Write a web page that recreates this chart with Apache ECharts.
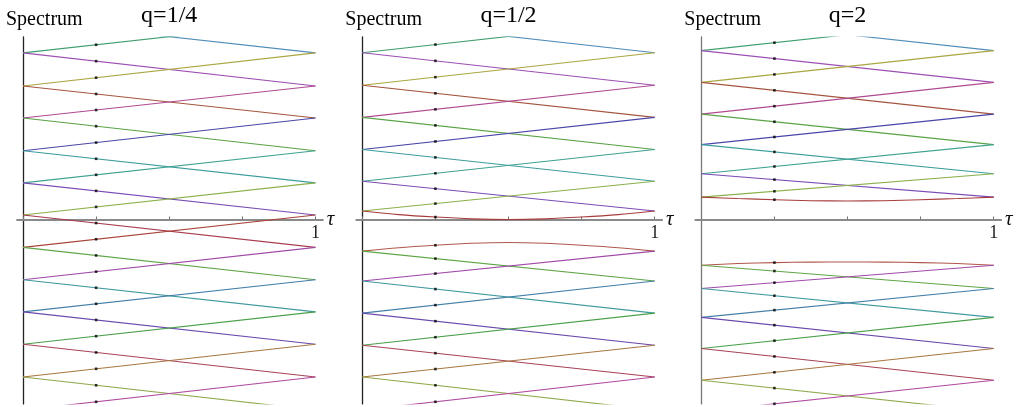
<!DOCTYPE html>
<html>
<head>
<meta charset="utf-8">
<script src="https://cdn.jsdelivr.net/npm/echarts@6/dist/echarts.min.js"></script>
<style>
html,body{margin:0;padding:0;background:#fff}
#chart{width:1022px;height:407px}
</style>
</head>
<body>
<div id="chart"></div>
<script>
// tau axis
var tauTicks = [0, 0.25, 0.5, 0.75, 1];
var tauLabels = [1];
var dotTau = 0.25;
var panelTitles = ['q=1/4', 'q=1/2', 'q=2'];

// levels at tau=0 (same at tau=1), top to bottom
var levelsQ14 = [6.14, 5.14, 4.12, 3.13, 2.12, 1.13, 0.14, -0.86, -1.86, -2.85, -3.85, -4.86, -5.88];
var levelsQ12 = [6.15, 5.145, 4.14, 3.15, 2.16, 1.18, 0.26, -0.975, -1.90, -2.89, -3.88, -4.86, -5.88];
var levelsQ2  = [6.19, 5.21, 4.23, 3.25, 2.31, 1.41, 0.69, -1.41, -2.13, -3.02, -3.98, -4.96, -5.93];

// bent bands next to the gap (q=1/2, q=2)
var curveTau = [0, 0.125, 0.25, 0.375, 0.5, 0.625, 0.75, 0.875, 1];
var upperQ12 = [0.26, 0.15, 0.075, 0.02, 0.0, 0.02, 0.075, 0.15, 0.26];
var lowerQ12 = [-0.975, -0.87, -0.795, -0.735, -0.71, -0.735, -0.795, -0.87, -0.975];
var upperQ2  = [0.69, 0.645, 0.61, 0.58, 0.57, 0.58, 0.61, 0.645, 0.69];
var lowerQ2  = [-1.41, -1.36, -1.33, -1.315, -1.31, -1.315, -1.33, -1.36, -1.41];
var gapPair = 6;

// colour of the falling and rising line between level k and k+1
var fallColors = ['#4f8db8', '#9d4fb3', '#a5553f', '#5aa345', '#3d9d9d', '#7a4cb5',
                  '#a83c4c', '#5fa545', '#3f9a9f', '#6a48ac', '#a84258', '#8fa84a'];
var riseColors = ['#3f9f6f', '#aaa640', '#b04a90', '#4a45a8', '#3fa290', '#8ab048',
                  '#a84438', '#a049a8', '#447fa8', '#4aa04a', '#a8763f', '#b04aa0'];
var upperColor = '#a83c3c';
var lowerColor = '#b0584c';

var yMin = -5.69, yMax = 5.63;
var gridLeft = [17.15, 356.45, 695.45];
var yAxisColor = ['#222', '#222', '#777'];

var myChart = echarts.init(document.getElementById('chart'));
var grids = [], xAxes = [], yAxes = [], series = [], graphics = [];

function addLine(p, data, color, smooth) {
    series.push({
        type: 'line', xAxisIndex: p, yAxisIndex: p,
        data: data, showSymbol: false, smooth: smooth ? 0.3 : false,
        lineStyle: {color: color, width: 1.1}, silent: true, z: 3
    });
}

function buildPanel(p, levels, upper, lower) {
    var dots = [];
    for (var k = 0; k < levels.length - 1; k++) {
        var a = levels[k], b = levels[k + 1];
        if (upper && k == gapPair) {
            addLine(p, curveTau.map(function (t, i) { return [t, upper[i]]; }), upperColor, true);
            addLine(p, curveTau.map(function (t, i) { return [t, lower[i]]; }), lowerColor, true);
            var j = curveTau.indexOf(dotTau);
            dots.push([dotTau, upper[j]], [dotTau, lower[j]]);
            continue;
        }
        addLine(p, [[0, a], [1, b]], fallColors[k]);
        addLine(p, [[0, b], [1, a]], riseColors[k]);
        dots.push([dotTau, a + dotTau * (b - a)], [dotTau, b + dotTau * (a - b)]);
    }
    series.push({
        type: 'scatter', xAxisIndex: p, yAxisIndex: p, data: dots,
        symbol: 'rect', symbolSize: 2.6, itemStyle: {color: '#000'}, silent: true, z: 4
    });

    grids.push({left: gridLeft[p], top: 37, width: 305.6, height: 366.9, outerBoundsMode: 'none', containLabel: false});
    xAxes.push({
        type: 'value', gridIndex: p, min: -0.02, max: 1.025,
        name: 'τ', nameLocation: 'end', nameGap: 4,
        nameTextStyle: {fontFamily: 'Liberation Serif', fontStyle: 'italic', fontSize: 21, color: '#111'},
        axisLine: {onZero: true, lineStyle: {color: '#8a8a8a', width: 2.2}},
        axisTick: {show: true, inside: true, length: 3, customValues: tauTicks, lineStyle: {color: '#777', width: 1}},
        axisLabel: {show: false},
        splitLine: {show: false}
    });
    yAxes.push({
        type: 'value', gridIndex: p, min: yMin, max: yMax,
        axisLine: {show: true, onZero: true, lineStyle: {color: yAxisColor[p], width: 1.3}},
        axisTick: {show: false}, axisLabel: {show: false}, splitLine: {show: false}
    });

    var x0 = gridLeft[p] + 0.02 * 292.4;
    graphics.push({
        type: 'text', x: x0 - 17, y: 20,
        style: {text: 'Spectrum', font: '20px "Liberation Serif"', fill: '#000', textAlign: 'left', textVerticalAlign: 'middle'}
    });
    graphics.push({
        type: 'text', x: x0 + 0.5 * 292.4, y: 15.5,
        style: {text: panelTitles[p], font: '24px "Liberation Serif"', fill: '#000', textAlign: 'center', textVerticalAlign: 'middle'}
    });
}

buildPanel(0, levelsQ14);
buildPanel(1, levelsQ12, upperQ12, lowerQ12);
buildPanel(2, levelsQ2, upperQ2, lowerQ2);

var option = {
    animation: false,
    backgroundColor: '#fff',
    grid: grids,
    xAxis: xAxes,
    yAxis: yAxes,
    series: series,
    graphic: graphics
};
myChart.setOption(option);

// tick label "1" under the tau axis, placed through the axis scale
for (var p = 0; p < 3; p++) {
    tauLabels.forEach(function (v) {
        var pt = myChart.convertToPixel({gridIndex: p}, [v, 0]);
        graphics.push({
            type: 'text', x: pt[0], y: pt[1] + 14,
            style: {text: String(v), font: '18px "Liberation Serif"', fill: '#222', textAlign: 'center', textVerticalAlign: 'middle'}
        });
    });
}
myChart.setOption({graphic: graphics});
</script>
</body>
</html>
